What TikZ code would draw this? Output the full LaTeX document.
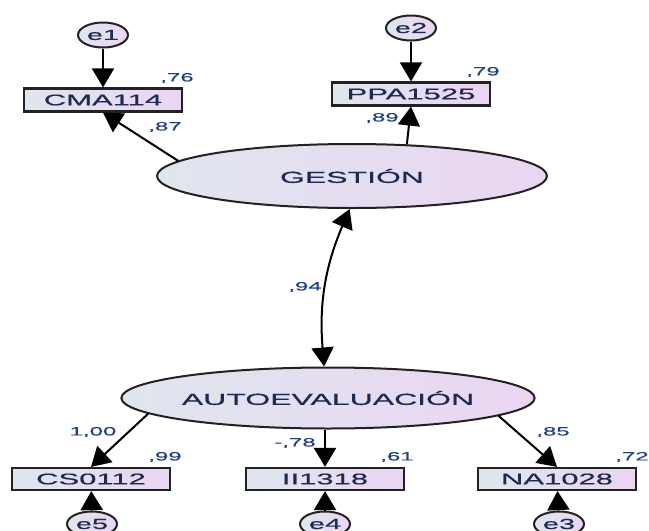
\documentclass[tikz,border=0pt]{standalone}
\usepackage{fontspec}
\newfontfamily\wf{Liberation Sans}[FakeStretch=2,FakeBold=0.6]
\usetikzlibrary{shapes.geometric,arrows.meta}
\definecolor{fillL}{HTML}{DFE6EE}
\definecolor{fillR}{HTML}{EBD5F2}
\definecolor{txt}{HTML}{1E2A52}
\definecolor{lab}{HTML}{22407E}
\definecolor{edge}{HTML}{222222}
\begin{document}
\begin{tikzpicture}[x=1pt,y=-1pt,
 obs/.style={draw=edge,line width=2.2pt,left color=fillL,right color=fillR,minimum width=158pt,minimum height=23pt,inner sep=0pt,text=txt,font=\wf\fontsize{15.5}{16}\selectfont},
 lat/.style={ellipse,draw=edge,line width=2pt,left color=fillL,right color=fillR,inner sep=0pt,text=txt,font=\wf\fontsize{16}{17}\selectfont},
 err/.style={ellipse,draw=edge,line width=2pt,left color=fillL,right color=fillR,minimum width=50pt,minimum height=25pt,inner sep=0pt,text=txt,font=\wf\fontsize{14.5}{15}\selectfont},
 arr/.style={-{Triangle[length=19pt,width=22pt]},line width=2pt,draw=black},
 darr/.style={{Triangle[length=19pt,width=22pt]}-{Triangle[length=19pt,width=22pt]},line width=2pt,draw=black},
 lbl/.style={text=lab,font=\wf\fontsize{12}{13}\selectfont,inner sep=0pt}]
\useasboundingbox (0,0) rectangle (649,531);
\clip (0,0) rectangle (649,531);
% latent
\node[lat,minimum width=390pt,minimum height=64pt] (ges) at (352,176) {GESTIÓN};
\node[lat,minimum width=390pt,minimum height=61pt] (auto) at (328,398) {AUTOEVALUACIÓN};
% observed
\node[obs] (cma) at (103,100) {CMA114};
\node[obs] (ppa) at (411,94) {PPA1525};
\node[obs,minimum height=22pt] (cs) at (91,479) {CS0112};
\node[obs,minimum height=22pt] (ii) at (325,479) {II1318};
\node[obs,minimum height=22pt] (na) at (557,479) {NA1028};
% errors
\node[err] (e1) at (103,35) {e1};
\node[err] (e2) at (411,28) {e2};
\node[err] (e5) at (92,524) {e5};
\node[err] (e4) at (325,524) {e4};
\node[err] (e3) at (559,524) {e3};
% connectors
\draw[arr] (e1) -- (cma);
\draw[arr] (e2) -- (ppa);
\draw[arr] (e5) -- (cs);
\draw[arr] (e4) -- (ii);
\draw[arr] (e3) -- (na);
\draw[arr] (ges.175) -- (cma.south);
\draw[arr] (ges.30.3) -- (ppa.south);
\draw[arr] (auto.185.6) -- (cs.north);
\draw[arr] (ii.north |- auto.south) -- (ii.north);
\draw[arr] (auto.354.3) -- (na.north);
\draw[darr] (ges.266.4) to[bend right=14] (auto.97.6);
% labels
\node[lbl] (l1) at (177,78) {,76};
\node[lbl] (l2) at (165,127) {,87};
\node[lbl] (l3) at (483,72) {,79};
\node[lbl] (l4) at (382,118) {,89};
\node[lbl] (l5) at (305,287) {,94};
\node[lbl] (l6) at (93,432) {1,00};
\node[lbl] (l7) at (165,457) {,99};
\node[lbl] (l8) at (295,443) {-,78};
\node[lbl] (l9) at (397,457) {,61};
\node[lbl] (l10) at (553,432) {,85};
\node[lbl] (l11) at (632,457) {,72};
\end{tikzpicture}
\end{document}
